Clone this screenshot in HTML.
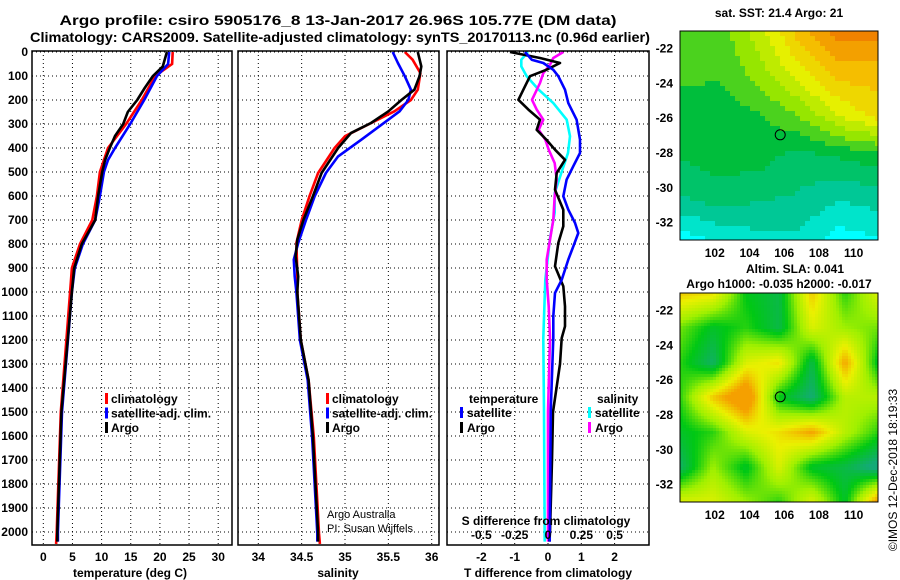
<!DOCTYPE html>
<html><head><meta charset="utf-8"><style>
body{margin:0;background:#fff;}
svg{display:block;font-family:"Liberation Sans",sans-serif;font-weight:bold;}
</style></head><body>
<svg id="c" width="900" height="580" viewBox="0 0 900 580">
<text x="338" y="25" font-size="14" text-anchor="middle" textLength="557" lengthAdjust="spacingAndGlyphs">Argo profile: csiro 5905176_8 13-Jan-2017 26.96S 105.77E (DM data)</text>
<text x="340" y="42" font-size="14" text-anchor="middle" textLength="620" lengthAdjust="spacingAndGlyphs">Climatology: CARS2009. Satellite-adjusted climatology: synTS_20170113.nc (0.96d earlier)</text>
<g id="g"></g>
</svg>
<script>
// ---- data ----
const depthTicks=[0,100,200,300,400,500,600,700,800,900,1000,1100,1200,1300,1400,1500,1600,1700,1800,1900,2000];
const tTicks=[0,5,10,15,20,25,30];
const sTicks=[34,34.5,35,35.5,36];
const sTickLabels=["34","34.5","35","35.5","36"];
const dtTicks=[-2,-1,0,1,2];
const dsTicks=[-0.5,-0.25,0,0.25,0.5];
const dsTickLabels=["-0.5","-0.25","0","0.25","0.5"];

const tClimDepth=[0,50,100,200,300,400,450,500,600,700,800,900,1000,1500,2000,2050];
const tClim=[22.2,22.1,19.2,16.9,14.2,11.1,10.4,9.7,9.2,8.4,6.3,4.9,4.6,3.0,2.3,2.2];
const tSatDepth=[0,50,100,200,300,400,450,500,600,700,800,900,1000,1500,2000,2040];
const tSat=[21.6,21.4,19.5,17.3,14.9,12.3,11.1,10.4,9.7,8.9,6.8,5.4,4.9,3.2,2.5,2.5];
const tArgoDepth=[0,60,100,150,200,250,300,350,400,450,500,600,700,800,900,1000,1500,2000,2040];
const tArgo=[21.2,20.5,18.8,17.4,16.1,14.5,13.7,12.3,11.4,10.6,10.1,9.4,8.9,6.6,5.3,4.9,3.1,2.4,2.4];

const sArgoDepth=[0,60,100,157,200,247,296,337,400,504,601,700,782,851,935,1000,1200,1367,1603,2005,2040];
const sArgo=[35.84,35.88,35.86,35.80,35.65,35.50,35.30,35.07,34.92,34.73,34.63,34.52,34.45,34.43,34.46,34.45,34.49,34.58,34.63,34.69,34.69];
const sClimDepth=[0,32,88,157,200,247,351,400,504,601,700,796,921,1000,1200,1367,1603,2005,2050];
const sClim=[35.69,35.78,35.87,35.84,35.76,35.57,35.0,34.88,34.69,34.59,34.50,34.44,34.45,34.45,34.49,34.58,34.64,34.70,34.71];
const sSatDepth=[0,46,101,157,200,247,365,435,504,601,700,796,865,935,1000,1200,1367,1603,2005,2040];
const sSat=[35.55,35.61,35.69,35.76,35.73,35.63,35.19,34.92,34.78,34.65,34.55,34.46,34.41,34.42,34.44,34.48,34.57,34.62,34.68,34.68];

const dtArgoDepth=[0,25,46,74,101,143,199,240,282,324,365,407,449,504,574,657,726,796,893,976,1060,1143,1192,1300,1500,1700,2000,2040];
const dtArgo=[-1.14,-0.24,0.36,-0.05,-0.54,-0.69,-0.89,-0.59,-0.24,-0.34,-0.05,0.21,0.51,0.26,0.21,0.46,0.46,0.31,0.21,0.46,0.51,0.51,0.41,0.36,0.15,0.12,0.06,0.04];
const dtSatDepth=[0,32,46,74,101,157,213,282,365,421,476,532,601,657,712,754,810,865,949,1004,1101,1192,1500,2040];
const dtSat=[-0.69,-0.49,-0.14,0.16,0.31,0.51,0.61,0.86,0.96,0.96,0.76,0.56,0.46,0.61,0.81,0.91,0.76,0.61,0.41,0.21,0.16,0.16,0.08,0.05];
const dsSatDepth=[0,32,60,101,157,213,282,351,421,504,588,669,776,949,1192,1500,2040];
const dsSat=[-0.15,-0.20,-0.20,-0.16,-0.07,0.04,0.14,0.165,0.15,0.10,0.05,0.05,0.015,-0.02,-0.035,-0.03,-0.025];
const dsArgoDepth=[0,25,53,88,129,199,240,282,324,365,407,463,532,601,699,782,865,948,1060,1192,1500,2040];
const dsArgo=[0.115,0.04,0.015,-0.035,-0.06,-0.12,-0.085,-0.035,-0.07,-0.02,0.005,0.05,0.065,0.05,0.04,0.015,-0.01,-0.01,0.005,0.015,0.0,0.0];

const mapLonTicks=[102,104,106,108,110];
const mapLatTicks=[-22,-24,-26,-28,-30,-32];
const argoLon=105.77, argoLat=-26.96;
const sstGrid=[
[2.6,2.5,3.5,5,6,6],
[2.4,2.3,3,4,5,5],
[2,2,2.2,2.8,3.8,4.5],
[1.8,2,2,1.5,1.8,2],
[1.2,1.5,1.3,1.2,0.8,1.0],
[0,0.3,0.6,0.6,0,0.2]];
const slaGrid=[
[3,2.8,1.3,1,3,1.5,2.5],
[1.8,1.2,1.5,1,2.5,2,1.8],
[1.5,0.8,2.5,2.8,1.0,3.3,1.2],
[1.5,3,3.9,1.3,0.7,2.2,2.2],
[1.2,1.5,2.5,2.8,3.3,2.2,1.5],
[0.8,2.0,1.2,2.5,1.2,1.0,0.5],
[2.5,2.5,2,1.5,2.5,1.2,3.5]];

// ---- drawing ----
const NS='http://www.w3.org/2000/svg';
const G=document.getElementById('g');
function mk(tag,at,parent){const e=document.createElementNS(NS,tag);for(const k in at)e.setAttribute(k,at[k]);(parent||G).appendChild(e);return e;}
const top0=51,bot=545;
const yD=d=>52+d*0.24;
const xT=t=>43.3+t*5.83;
const xS=s=>258.3+(s-34)*86.7;
const xDT=v=>548+v*33.3;
const xDS=v=>548+v*133.3;
const panels=[[32,232],[238,439],[447,649]];

panels.forEach((p,i)=>{
  depthTicks.forEach(d=>{const l=mk('line',{x1:p[0],x2:p[1],y1:yD(d),y2:yD(d),stroke:'#000','stroke-width':1,'stroke-dasharray':'1,3'});
  });
});
tTicks.forEach(t=>{const l=mk('line',{x1:xT(t),x2:xT(t),y1:top0,y2:bot,stroke:'#000','stroke-dasharray':'1,3'});
 const tx=mk('text',{x:xT(t),y:561,'font-size':12,'text-anchor':'middle'});tx.textContent=t;});
sTicks.forEach((s,i)=>{const l=mk('line',{x1:xS(s),x2:xS(s),y1:top0,y2:bot,stroke:'#000','stroke-dasharray':'1,3'});
 const tx=mk('text',{x:xS(s),y:561,'font-size':12,'text-anchor':'middle'});tx.textContent=sTickLabels[i];});
dtTicks.forEach(v=>{const l=mk('line',{x1:xDT(v),x2:xDT(v),y1:top0,y2:bot,stroke:'#000','stroke-dasharray':'1,3'});
 const tx=mk('text',{x:xDT(v),y:561,'font-size':12,'text-anchor':'middle'});tx.textContent=v;});
depthTicks.forEach(d=>{const tx=mk('text',{x:28,y:yD(d)+4,'font-size':12,'text-anchor':'end'});tx.textContent=d;});

function line(xs,ds,fx,col,name){
  const pts=xs.map((v,i)=>fx(v).toFixed(1)+','+yD(ds[i]).toFixed(1)).join(' ');
  const p=mk('polyline',{points:pts,fill:'none',stroke:col,'stroke-width':2.6,'stroke-linejoin':'round'});
  
}
line(tClim,tClimDepth,xT,'#ff0000','temperature-climatology-line');
line(tSat,tSatDepth,xT,'#0000ff','temperature-satellite-line');
line(tArgo,tArgoDepth,xT,'#000','temperature-argo-line');
line(sClim,sClimDepth,xS,'#ff0000','salinity-climatology-line');
line(sSat,sSatDepth,xS,'#0000ff','salinity-satellite-line');
line(sArgo,sArgoDepth,xS,'#000','salinity-argo-line');
line(dsSat,dsSatDepth,xDS,'#00ffff','sdiff-satellite-line');
line(dsArgo,dsArgoDepth,xDS,'#ff00ff','sdiff-argo-line');
line(dtArgo,dtArgoDepth,xDT,'#000','tdiff-argo-line');
line(dtSat,dtSatDepth,xDT,'#0000ff','tdiff-satellite-line');

panels.forEach(p=>{const r=mk('rect',{x:p[0],y:top0,width:p[1]-p[0],height:bot-top0,fill:'none',stroke:'#000','stroke-width':1.5});});

function txt(x,y,s,name,size,anchor,w){const t=mk('text',{x:x,y:y,'font-size':size||12,'text-anchor':anchor||'start'});if(w)t.setAttribute('font-weight',w);t.textContent=s;return t;}
function bar(x,y,c,name){const r=mk('rect',{x:x,y:y-10,width:3,height:11,fill:c});}
txt(130,577,'temperature (deg C)','temperature-axis-title',12,'middle');
txt(338,577,'salinity','salinity-axis-title',12,'middle');
txt(548,577,'T difference from climatology','tdiff-axis-title',12,'middle');
txt(546,525,'S difference from climatology','sdiff-axis-title',12,'middle');
dsTicks.forEach((v,i)=>txt(xDS(v),539,dsTickLabels[i],'sdiff-tick-label',12,'middle'));
[[105,'#ff0000','climatology'],[105,'#0000ff','satellite-adj. clim.'],[105,'#000','Argo']].forEach((e,i)=>{bar(e[0],403+i*14.5,e[1],'legend-marker');txt(e[0]+6,403+i*14.5,e[2],'legend-entry');});
[[326,'#ff0000','climatology'],[326,'#0000ff','satellite-adj. clim.'],[326,'#000','Argo']].forEach((e,i)=>{bar(e[0],403+i*14.5,e[1],'legend-marker');txt(e[0]+6,403+i*14.5,e[2],'legend-entry');});
txt(469,403,'temperature','legend-heading');
bar(460,417,'#0000ff','legend-marker');txt(467,417,'satellite','legend-entry');
bar(460,432,'#000','legend-marker');txt(467,432,'Argo','legend-entry');
txt(597,403,'salinity','legend-heading');
bar(588,417,'#00ffff','legend-marker');txt(595,417,'satellite','legend-entry');
bar(588,432,'#ff00ff','legend-marker');txt(595,432,'Argo','legend-entry');
txt(327,518,'Argo Australia','credit-line-1',11,'start','normal');
txt(327,532,'PI: Susan Wijffels','credit-line-2',11,'start','normal');

// maps
const sstCols=[[0,255,255],[0,200,150],[0,190,60],[150,230,0],[230,240,0],[245,190,0],[240,130,0]];
const slaCols=[[20,170,120],[0,200,20],[160,240,0],[235,240,0],[245,160,0]];
function cmap(cols,v){v=Math.max(0,Math.min(cols.length-1,v));const i=Math.min(cols.length-2,Math.floor(v)),f=v-i;const a=cols[i],b=cols[i+1];return 'rgb('+a.map((c,k)=>Math.round(c+(b[k]-c)*f)).join(',')+')';}
function interp(grid,u,v){const n=grid.length-1,m=grid[0].length-1;const r=v*n,c=u*m;const r0=Math.min(n-1,Math.floor(r)),c0=Math.min(m-1,Math.floor(c));const fr=r-r0,fc=c-c0;
 return grid[r0][c0]*(1-fr)*(1-fc)+grid[r0][c0+1]*(1-fr)*fc+grid[r0+1][c0]*fr*(1-fc)+grid[r0+1][c0+1]*fr*fc;}
function drawMap(x0,y0,w,h,grid,cols,cell,name,quant,contrast){
  const g=mk('g',{});
  for(let yy=0;yy<h;yy+=cell)for(let xx=0;xx<w;xx+=cell){
    let v=interp(grid,(xx+cell/2)/w,(yy+cell/2)/h);
    if(contrast)v=2+(v-2)*contrast;
    if(quant)v=Math.round(v*2)/2;
    mk('rect',{x:x0+xx,y:y0+yy,width:Math.min(cell,w-xx)+0.3,height:Math.min(cell,h-yy)+0.3,fill:cmap(cols,v)},g);}
  const lonX=l=>x0+(l-100)/11.4*w, latY=a=>y0+(-21-a)/12*h;
  mk('rect',{x:x0,y:y0,width:w,height:h,fill:'none',stroke:'#000','stroke-width':1},g);
  mapLonTicks.forEach(l=>txt(lonX(l),y0+h+17,l,'map-lon-label',12,'middle'));
  mapLatTicks.forEach(a=>txt(x0-7,latY(a)+4,a,'map-lat-label',12,'end'));
  const c=mk('circle',{cx:lonX(argoLon),cy:latY(argoLat),r:5,fill:'none',stroke:'#000','stroke-width':1});
  
}
drawMap(680,31,198,209,sstGrid,sstCols,5,'sst-map',true,0);
drawMap(680,293,198,209,slaGrid,slaCols,3,'sla-map',false,1.5);
txt(779,17,'sat. SST: 21.4 Argo: 21','sst-map-title',12,'middle');
txt(746,273,'Altim. SLA: 0.041','sla-map-title-1',12,'start');
txt(779,288,'Argo h1000: -0.035 h2000: -0.017','sla-map-title-2',12,'middle');
const rt=txt(0,0,'©IMOS 12-Dec-2018 18:19:33','timestamp',12,'middle','normal');
rt.setAttribute('transform','translate(897,470) rotate(-90)');
</script>
</body></html>
